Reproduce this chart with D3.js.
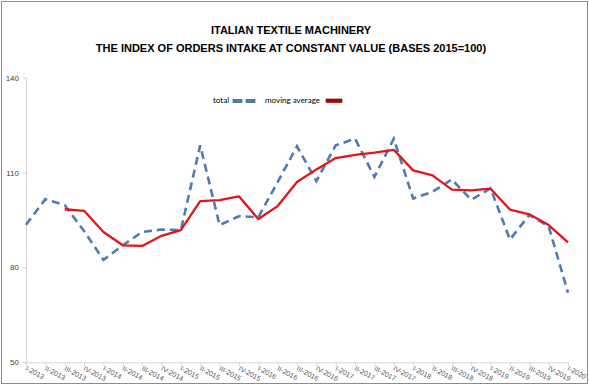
<!DOCTYPE html>
<html>
<head>
<meta charset="utf-8">
<script src="https://cdn.jsdelivr.net/npm/d3@7/dist/d3.min.js"></script>
<style>
  body { margin: 0; background: #fff; }
  svg { display: block; font-family: "Liberation Sans", Arial, sans-serif; }
</style>
</head>
<body>
<div id="chart"></div>
<script>
// quarters I-2013 .. I-2020
const quarters = ["I-2013","II-2013","III-2013","IV-2013","I-2014","II-2014","III-2014","IV-2014",
  "I-2015","II-2015","III-2015","IV-2015","I-2016","II-2016","III-2016","IV-2016",
  "I-2017","II-2017","III-2017","IV-2017","I-2018","II-2018","III-2018","IV-2018",
  "I-2019","II-2019","III-2019","IV-2019","I-2020"];

// total index (dashed blue)
const total = [93.5, 101.6, 99.7, 91.5, 82.4, 87.0, 91.2, 92.0, 91.8, 118.6, 93.4, 96.2, 95.9,
  107.0, 118.3, 107.3, 118.6, 120.7, 108.6, 120.7, 101.8, 103.9, 107.8, 101.4, 105.0,
  88.8, 96.6, 93.0, 72.0];

// moving average (red), starts at III-2013
const movingAvg = [null, null, 98.4, 97.9, 91.2, 87.0, 86.8, 90.0, 91.8, 101.0, 101.3, 102.5, 95.3,
  99.4, 107.0, 111.0, 114.6, 115.6, 116.3, 117.2, 110.7, 109.1, 104.6, 104.4, 104.9,
  98.3, 96.8, 93.4, 87.9];

const yTicks = [50, 80, 110, 140];

const width = 589, height = 385;

const svg = d3.select("#chart").append("svg")
  .attr("width", width)
  .attr("height", height);

// outer frame
svg.append("rect")
  .attr("x", 1.5).attr("y", 1.5)
  .attr("width", width - 3).attr("height", height - 3)
  .attr("fill", "#fff")
  .attr("stroke", "#8c8c8c");

// title
const title = svg.append("g")
  .attr("text-anchor", "middle")
  .attr("font-weight", "bold")
  .attr("font-size", "11px")
  .attr("fill", "#000");
title.append("text").attr("x", 291).attr("y", 34).text("ITALIAN TEXTILE MACHINERY");
title.append("text").attr("x", 291).attr("y", 52).text("THE INDEX OF ORDERS INTAKE AT CONSTANT VALUE (BASES 2015=100)");

const x = d3.scalePoint()
  .domain(quarters)
  .range([26, 568]);

const y = d3.scaleLinear()
  .domain([50, 140])
  .range([362.3, 77.7]);

// y axis
const yAxis = svg.append("g")
  .attr("transform", "translate(26,0)")
  .call(d3.axisLeft(y).tickValues(yTicks).tickSize(3).tickPadding(4));
yAxis.select(".domain").attr("stroke", "#d9d9d9");
yAxis.selectAll(".tick line").attr("stroke", "#d9d9d9");
yAxis.selectAll(".tick text")
  .attr("fill", "#404040")
  .attr("font-size", "8px")
  .attr("font-family", "Liberation Sans, Arial, sans-serif");

// x axis
const xAxis = svg.append("g")
  .attr("transform", "translate(0,362.3)")
  .call(d3.axisBottom(x).tickSize(4).tickSizeOuter(0).tickFormat(""));
xAxis.select(".domain").attr("stroke", "#d9d9d9");
xAxis.selectAll(".tick line").attr("stroke", "#d9d9d9");

// rotated quarter labels
svg.append("g")
  .selectAll("text")
  .data(quarters)
  .join("text")
  .attr("transform", d => `translate(${x(d) - 1},${370}) rotate(28)`)
  .attr("text-anchor", "start")
  .attr("font-size", "7px")
  .attr("fill", "#595959")
  .text(d => d);

// lines
const line = d3.line()
  .defined(d => d != null)
  .x((d, i) => x(quarters[i]))
  .y(d => y(d));

svg.append("path")
  .datum(total)
  .attr("fill", "none")
  .attr("stroke", "#4f7bb3")
  .attr("stroke-width", 2.6)
  .attr("stroke-dasharray", "8,5")
  .attr("d", line);

svg.append("path")
  .datum(movingAvg)
  .attr("fill", "none")
  .attr("stroke", "#e3141c")
  .attr("stroke-width", 2.3)
  .attr("stroke-linejoin", "round")
  .attr("d", line);

// legend
const legend = svg.append("g")
  .attr("font-size", "8px")
  .attr("font-family", "Lato, 'Open Sans', sans-serif")
  .attr("fill", "#000");

legend.append("text").attr("x", 213).attr("y", 103).text("total");
[233, 246].forEach(lx => {
  legend.append("rect")
    .attr("x", lx).attr("y", 99.5)
    .attr("width", 9).attr("height", 3)
    .attr("fill", "#4f7bb3")
    .attr("stroke", "#2e4a70").attr("stroke-width", 0.6);
});

legend.append("text").attr("x", 265).attr("y", 103).text("moving average");
legend.append("rect")
  .attr("x", 326).attr("y", 99)
  .attr("width", 16).attr("height", 3.5)
  .attr("fill", "#c00000")
  .attr("stroke", "#5a0000").attr("stroke-width", 0.6);
</script>
</body>
</html>
